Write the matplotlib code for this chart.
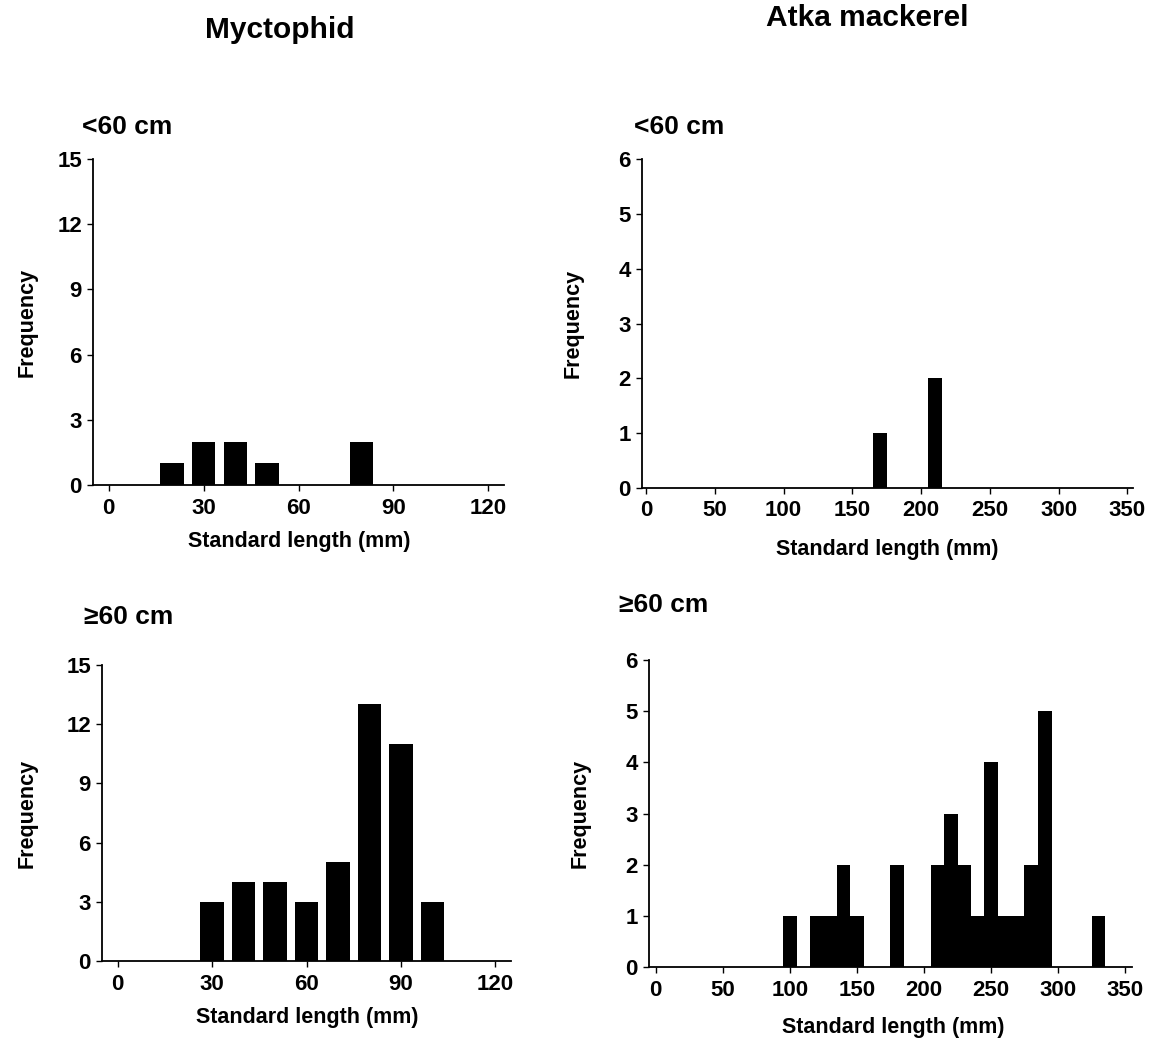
import matplotlib
matplotlib.use("Agg")
import matplotlib.pyplot as plt

plt.rcParams['font.family'] = ['Liberation Sans', 'DejaVu Sans']
plt.rcParams['font.weight'] = 'bold'

# Myctophid, standard length bins (mm) and counts
myct_small_len = [20, 30, 40, 50, 80]
myct_small_n = [1, 2, 2, 1, 2]
myct_large_len = [30, 40, 50, 60, 70, 80, 90, 100]
myct_large_n = [3, 4, 4, 3, 5, 13, 11, 3]

# Atka mackerel
atka_small_len = [170, 210]
atka_small_n = [1, 2]
atka_large_len = [100, 120, 130, 140, 150, 180, 210, 220, 230, 240, 250, 260, 270, 280, 290, 330]
atka_large_n = [1, 1, 1, 2, 1, 2, 2, 3, 2, 1, 4, 1, 1, 2, 5, 1]

myct_xticks = [0, 30, 60, 90, 120]
myct_yticks = [0, 3, 6, 9, 12, 15]
atka_xticks = [0, 50, 100, 150, 200, 250, 300, 350]
atka_yticks = [0, 1, 2, 3, 4, 5, 6]

W, H = 1155, 1044
fig = plt.figure(figsize=(W / 100, H / 100), dpi=100)


def px_axes(x0, y0, x1, y1):
    # rectangle given in pixel coords (top-left origin)
    return fig.add_axes([x0 / W, 1 - y1 / H, (x1 - x0) / W, (y1 - y0) / H])


def style(ax, xlim, ylim, xticks, yticks):
    ax.set_xlim(*xlim)
    ax.set_ylim(*ylim)
    ax.set_xticks(xticks)
    ax.set_yticks(yticks)
    for s in ['top', 'right']:
        ax.spines[s].set_visible(False)
    for s in ['left', 'bottom']:
        ax.spines[s].set_linewidth(1.3)
    ax.tick_params(direction='out', length=4, width=1, labelsize=16, pad=5)
    ax.tick_params(axis='y', pad=4)
    for lab in ax.get_xticklabels() + ax.get_yticklabels():
        lab.set_fontweight('bold')


ax1 = px_axes(93, 159, 504, 485)
ax1.bar(myct_small_len, myct_small_n, width=7.4, color='black')
style(ax1, (-5, 125), (0, 15), myct_xticks, myct_yticks)

ax2 = px_axes(642, 159, 1133, 488)
ax2.bar(atka_small_len, atka_small_n, width=10.5, color='black')
style(ax2, (-3, 354), (0, 6), atka_xticks, atka_yticks)

ax3 = px_axes(102, 665, 511, 961)
ax3.bar(myct_large_len, myct_large_n, width=7.4, color='black')
style(ax3, (-5, 125), (0, 15), myct_xticks, myct_yticks)

ax4 = px_axes(649, 660, 1132, 967)
ax4.bar(atka_large_len, atka_large_n, width=10.3, color='black')
style(ax4, (-5, 355), (0, 6), atka_xticks, atka_yticks)

tkw = dict(ha='center', va='center', fontweight='bold')
fig.text(280 / W, 1 - 30 / H, 'Myctophid', fontsize=21.5, **tkw)
fig.text(867 / W, 1 - 18 / H, 'Atka mackerel', fontsize=21.5, **tkw)

lkw = dict(ha='left', va='center', fontweight='bold', fontsize=19)
fig.text(82 / W, 1 - 127 / H, '<60 cm', **lkw)
fig.text(634 / W, 1 - 127 / H, '<60 cm', **lkw)
fig.text(84 / W, 1 - 617 / H, '\u226560 cm', **lkw)
fig.text(619 / W, 1 - 605 / H, '\u226560 cm', **lkw)

xl = dict(ha='center', va='center', fontweight='bold', fontsize=15.5)
fig.text(299 / W, 1 - 542 / H, 'Standard length (mm)', **xl)
fig.text(887 / W, 1 - 549 / H, 'Standard length (mm)', **xl)
fig.text(307 / W, 1 - 1018 / H, 'Standard length (mm)', **xl)
fig.text(893 / W, 1 - 1027 / H, 'Standard length (mm)', **xl)

yl = dict(ha='center', va='center', fontweight='bold', fontsize=15.5, rotation=90)
fig.text(27 / W, 1 - 322 / H, 'Frequency', **yl)
fig.text(573 / W, 1 - 323 / H, 'Frequency', **yl)
fig.text(27 / W, 1 - 813 / H, 'Frequency', **yl)
fig.text(580 / W, 1 - 813 / H, 'Frequency', **yl)

fig.savefig('out.png', dpi=100)
